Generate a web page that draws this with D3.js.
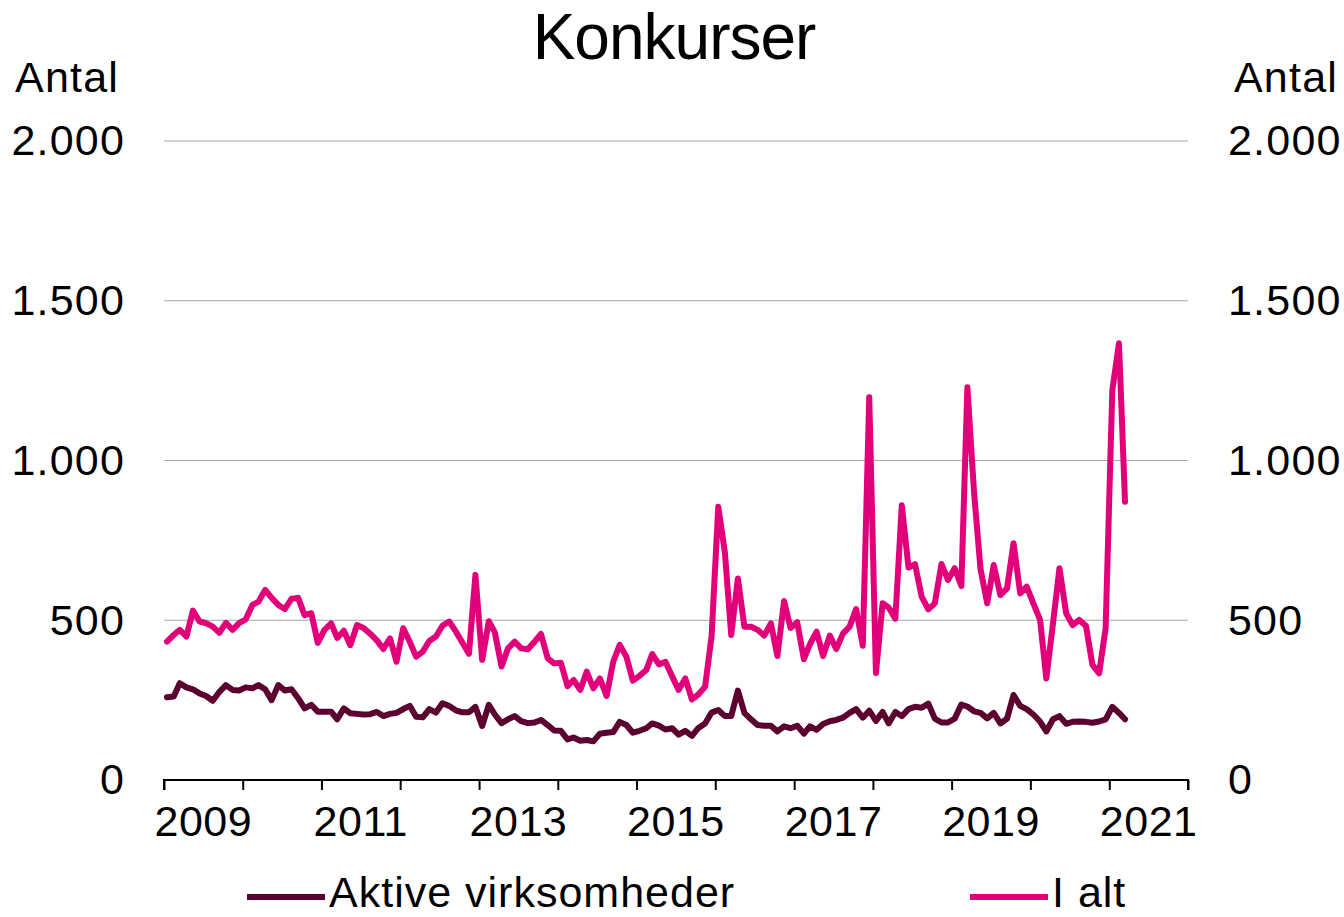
<!DOCTYPE html>
<html>
<head>
<meta charset="utf-8">
<script src="https://cdn.jsdelivr.net/npm/d3@7"></script>
<style>
  body { margin: 0; background: #fff; }
  text { font-family: "Liberation Sans", Arial, sans-serif; fill: #000; }
</style>
</head>
<body>
<svg id="canvas" width="1344" height="917"></svg>
<script>
// monthly series, Jan 2009 .. Mar 2021
const firstMonth = new Date(2009, 0, 1);
const months = d3.timeMonth.range(firstMonth, new Date(2021, 3, 1));

const aktive = [
  259, 261, 303, 290, 284, 271, 263, 248, 276, 297, 282, 280,
  290, 287, 297, 284, 250, 297, 280, 284, 256, 224, 235, 214,
  214, 214, 190, 224, 209, 207, 205, 206, 213, 200, 207, 210,
  222, 232, 198, 196, 222, 211, 240, 232, 218, 212, 212, 229,
  169, 235, 205, 178, 190, 200, 184, 178, 180, 188, 172, 155,
  154, 127, 133, 123, 125, 121, 145, 148, 150, 182, 172, 148,
  154, 162, 177, 170, 158, 162, 142, 154, 138, 163, 177, 211,
  219, 200, 200, 280, 210, 190, 172, 170, 170, 152, 168, 162,
  170, 145, 168, 157, 175, 184, 188, 195, 210, 222, 195, 217,
  185, 213, 177, 213, 200, 222, 229, 226, 239, 192, 180, 180,
  192, 236, 230, 215, 210, 193, 210, 177, 192, 266, 232, 222,
  205, 183, 152, 190, 200, 176, 182, 183, 182, 179, 183, 190,
  229, 210, 190
];

const iAlt = [
  433, 454, 470, 449, 530, 496, 491, 480, 461, 492, 470, 491,
  503, 548, 558, 595, 570, 548, 535, 567, 570, 516, 522, 429,
  470, 490, 445, 467, 422, 485, 476, 458, 437, 410, 443, 370,
  475, 432, 386, 402, 435, 449, 483, 496, 465, 430, 395, 642,
  376, 497, 462, 355, 412, 433, 412, 409, 433, 457, 381, 365,
  367, 294, 313, 282, 339, 287, 318, 263, 370, 423, 386, 311,
  326, 344, 394, 362, 370, 325, 282, 318, 252, 268, 292, 450,
  855, 710, 454, 631, 480, 480, 470, 452, 490, 388, 560, 476,
  494, 378, 425, 464, 388, 452, 410, 458, 480, 535, 420, 1198,
  335, 553, 540, 505, 860, 665, 676, 574, 534, 553, 676, 626,
  663, 607, 1229, 900, 660, 553, 673, 579, 600, 741, 584, 605,
  553, 501, 318, 490, 663, 522, 485, 501, 482, 360, 334, 475,
  1220, 1367, 871
];

const yTicks = [0, 500, 1000, 1500, 2000];
const yearLabels = [2009, 2011, 2013, 2015, 2017, 2019, 2021];
const seriesNames = ["Aktive virksomheder", "I alt"];
const seriesColors = ["#5c0030", "#e2007a"];

const svg = d3.select("#canvas");
const plotLeft = 164, plotRight = 1188, plotTop = 141, plotBottom = 780;

const x = d3.scaleTime()
    .domain([new Date(2009, 0, 1), new Date(2022, 0, 1)])
    .range([plotLeft, plotRight]);
const y = d3.scaleLinear()
    .domain([0, 2000])
    .range([plotBottom, plotTop]);

const fmt = d3.format(",d");
const daFmt = v => fmt(v).replace(/,/g, ".");

// title
svg.append("text")
    .attr("x", 674)
    .attr("y", 59)
    .attr("text-anchor", "middle")
    .attr("font-size", 64)
    .attr("letter-spacing", -1)
    .text("Konkurser");

// axis titles
svg.append("text")
    .attr("x", 15).attr("y", 92)
    .attr("font-size", 43)
    .attr("letter-spacing", 1.2)
    .text("Antal");
svg.append("text")
    .attr("x", 1338).attr("y", 92)
    .attr("text-anchor", "end")
    .attr("font-size", 43)
    .attr("letter-spacing", 1.2)
    .text("Antal");

// grid
svg.append("g")
    .selectAll("line")
    .data(yTicks.filter(d => d > 0))
    .join("line")
    .attr("x1", plotLeft)
    .attr("x2", plotRight)
    .attr("y1", d => y(d))
    .attr("y2", d => y(d))
    .attr("stroke", "#a6a6a6")
    .attr("stroke-width", 1);

// y labels, both sides
const yLeft = d3.axisLeft(y).tickValues(yTicks).tickFormat(daFmt).tickSize(0).tickPadding(0);
const gl = svg.append("g").attr("transform", "translate(125,0)").call(yLeft);
const yRight = d3.axisRight(y).tickValues(yTicks).tickFormat(daFmt).tickSize(0).tickPadding(0);
const gr = svg.append("g").attr("transform", "translate(1228,0)").call(yRight);
[gl, gr].forEach(g => {
    g.select(".domain").remove();
    g.selectAll("text")
        .attr("font-size", 43)
        .attr("letter-spacing", 1.2)
        .attr("font-family", null)
        .attr("fill", "#000");
});

// x axis
const xAxis = d3.axisBottom(x)
    .ticks(d3.timeYear.every(1))
    .tickSize(10)
    .tickFormat("");
const gx = svg.append("g")
    .attr("transform", `translate(0,${plotBottom})`)
    .call(xAxis);
gx.select(".domain").attr("stroke", "#000").attr("stroke-width", 2)
    .attr("d", `M${plotLeft},10V0H${plotRight}V10`);
gx.selectAll(".tick line").attr("stroke", "#000").attr("stroke-width", 2);

svg.append("g")
    .selectAll("text")
    .data(yearLabels)
    .join("text")
    .attr("x", d => (x(new Date(d, 0, 1)) + x(new Date(d + 1, 0, 1))) / 2)
    .attr("y", 836)
    .attr("text-anchor", "middle")
    .attr("font-size", 43)
    .attr("letter-spacing", 0.5)
    .text(d => d);

// lines
const line = d3.line()
    .x((d, i) => x(d3.timeDay.offset(months[i], 14)))
    .y(d => y(d));

[aktive, iAlt].forEach((s, k) => {
    svg.append("path")
        .datum(s)
        .attr("d", line)
        .attr("fill", "none")
        .attr("stroke", seriesColors[k])
        .attr("stroke-width", 6)
        .attr("stroke-linejoin", "round")
        .attr("stroke-linecap", "round");
});

// legend
const legendX = [247, 970];
const lg = svg.append("g");
seriesNames.forEach((name, k) => {
    lg.append("line")
        .attr("x1", legendX[k]).attr("x2", legendX[k] + 78)
        .attr("y1", 897).attr("y2", 897)
        .attr("stroke", seriesColors[k])
        .attr("stroke-width", 6);
    lg.append("text")
        .attr("x", legendX[k] + 82)
        .attr("y", 907)
        .attr("font-size", 43)
        .attr("letter-spacing", 1)
        .text(name);
});
</script>
</body>
</html>
